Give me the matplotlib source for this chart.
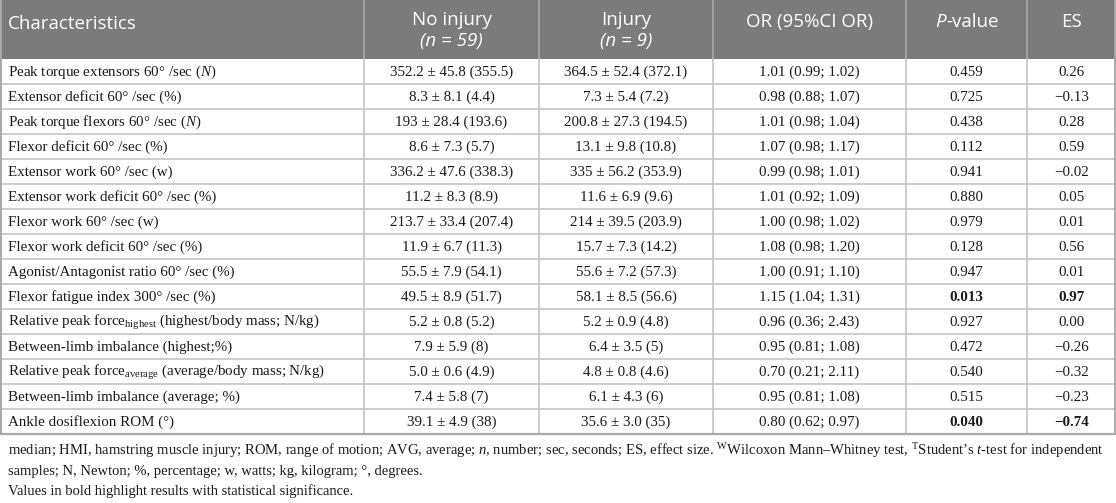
#!/usr/bin/env python3

import matplotlib
matplotlib.use('Agg')
from matplotlib import pyplot as plt
from matplotlib.patches import Rectangle

plt.rcParams['mathtext.fontset'] = 'custom'
plt.rcParams['mathtext.rm'] = 'Liberation Serif'
plt.rcParams['mathtext.it'] = 'Liberation Serif:italic'
plt.rcParams['mathtext.bf'] = 'Liberation Serif:bold'

headers = ['Characteristics', 'No injury', 'Injury', 'OR (95%CI OR)', 'P-value', 'ES']
group_sizes = ['(n = 59)', '(n = 9)']

characteristics = [
    r'Peak torque extensors 60° /sec ($N$)',
    'Extensor deficit 60° /sec (%)',
    r'Peak torque flexors 60° /sec ($N$)',
    'Flexor deficit 60° /sec (%)',
    'Extensor work 60° /sec (w)',
    'Extensor work deficit 60° /sec (%)',
    'Flexor work 60° /sec (w)',
    'Flexor work deficit 60° /sec (%)',
    'Agonist/Antagonist ratio 60° /sec (%)',
    'Flexor fatigue index 300° /sec (%)',
    r'Relative peak force$_{\mathrm{highest}}$ (highest/body mass; N/kg)',
    'Between-limb imbalance (highest;%)',
    r'Relative peak force$_{\mathrm{average}}$ (average/body mass; N/kg)',
    'Between-limb imbalance (average; %)',
    'Ankle dosiflexion ROM (°)',
]
no_injury = [
    '352.2 ± 45.8 (355.5)', '8.3 ± 8.1 (4.4)', '193 ± 28.4 (193.6)', '8.6 ± 7.3 (5.7)',
    '336.2 ± 47.6 (338.3)', '11.2 ± 8.3 (8.9)', '213.7 ± 33.4 (207.4)', '11.9 ± 6.7 (11.3)',
    '55.5 ± 7.9 (54.1)', '49.5 ± 8.9 (51.7)', '5.2 ± 0.8 (5.2)', '7.9 ± 5.9 (8)',
    '5.0 ± 0.6 (4.9)', '7.4 ± 5.8 (7)', '39.1 ± 4.9 (38)',
]
injury = [
    '364.5 ± 52.4 (372.1)', '7.3 ± 5.4 (7.2)', '200.8 ± 27.3 (194.5)', '13.1 ± 9.8 (10.8)',
    '335 ± 56.2 (353.9)', '11.6 ± 6.9 (9.6)', '214 ± 39.5 (203.9)', '15.7 ± 7.3 (14.2)',
    '55.6 ± 7.2 (57.3)', '58.1 ± 8.5 (56.6)', '5.2 ± 0.9 (4.8)', '6.4 ± 3.5 (5)',
    '4.8 ± 0.8 (4.6)', '6.1 ± 4.3 (6)', '35.6 ± 3.0 (35)',
]
odds_ratio = [
    '1.01 (0.99; 1.02)', '0.98 (0.88; 1.07)', '1.01 (0.98; 1.04)', '1.07 (0.98; 1.17)',
    '0.99 (0.98; 1.01)', '1.01 (0.92; 1.09)', '1.00 (0.98; 1.02)', '1.08 (0.98; 1.20)',
    '1.00 (0.91; 1.10)', '1.15 (1.04; 1.31)', '0.96 (0.36; 2.43)', '0.95 (0.81; 1.08)',
    '0.70 (0.21; 2.11)', '0.95 (0.81; 1.08)', '0.80 (0.62; 0.97)',
]
p_values = [
    '0.459', '0.725', '0.438', '0.112', '0.941', '0.880', '0.979', '0.128',
    '0.947', '0.013', '0.927', '0.472', '0.540', '0.515', '0.040',
]
effect_sizes = [
    '0.26', '−0.13', '0.28', '0.59', '−0.02', '0.05', '0.01', '0.56',
    '0.01', '0.97', '0.00', '−0.26', '−0.32', '−0.23', '−0.74',
]
significant = [p in ('0.013', '0.040') for p in p_values]

footnotes = [
    r'median; HMI, hamstring muscle injury; ROM, range of motion; AVG, average; $n$, number; sec, seconds; ES, effect size. '
    r'$^{\mathrm{W}}$Wilcoxon Mann–Whitney test, $^{\mathrm{T}}$Student’s $t$-test for independent',
    'samples; N, Newton; %, percentage; w, watts; kg, kilogram; °, degrees.',
    'Values in bold highlight results with statistical significance.',
]

# layout in pixels
W, H = 1116, 503
col_edges = [0, 364, 539, 713, 906, 1027, 1116]
header_h = 59
row_h = 25
head_bg = '#7b7b7b'
grid_c = '#c4c4c4'
txt_c = '#1a1a1a'
SANS = 'Open Sans'
SERIF = 'Liberation Serif'
HFS = 13.5   # header font size
BFS = 10.8   # body font size

fig = plt.figure(figsize=(W / 100, H / 100), dpi=100)
ax = fig.add_axes([0, 0, 1, 1])
ax.set_xlim(0, W)
ax.set_ylim(H, 0)
ax.axis('off')

# header
ax.add_patch(Rectangle((0, 0), W, header_h, facecolor=head_bg, edgecolor='none'))
for x in col_edges[1:-1]:
    ax.plot([x, x], [0, header_h], color='#a9a9a9', lw=1.2)

centers = [(a + b) / 2 for a, b in zip(col_edges[:-1], col_edges[1:])]
hkw = dict(color='white', fontsize=HFS, family=SANS, va='center')
ax.text(8, 24, headers[0], ha='left', **hkw)
for i in (1, 2):
    ax.text(centers[i], 20, headers[i], ha='center', **hkw)
    ax.text(centers[i], 41, group_sizes[i - 1], ha='center', style='italic', **hkw)
ax.text(centers[3], 22, headers[3], ha='center', **hkw)
ax.text(centers[5], 22, headers[5], ha='center', **hkw)

# "P-value" with italic P
renderer = fig.canvas.get_renderer()
p_txt = ax.text(0, 22, 'P', ha='left', style='italic', **hkw)
v_txt = ax.text(0, 22, '-value', ha='left', **hkw)
pw = p_txt.get_window_extent(renderer).width
vw = v_txt.get_window_extent(renderer).width
x0 = centers[4] - (pw + vw) / 2
p_txt.set_x(x0)
v_txt.set_x(x0 + pw + 1)

# body rows, all aligned on a common baseline
n_rows = len(characteristics)
columns = [no_injury, injury, odds_ratio, p_values, effect_sizes]
for r in range(n_rows):
    yb = header_h + (r + 0.5) * row_h + 4.5
    ax.text(8, yb, characteristics[r], color=txt_c, fontsize=BFS,
            family=SERIF, va='baseline', ha='left')
    for c, vals in enumerate(columns, start=1):
        bold = significant[r] and c >= 4
        ax.text(centers[c], yb, vals[r], color=txt_c, fontsize=BFS, family=SERIF,
                weight='bold' if bold else 'normal', va='baseline', ha='center')

# grid
table_bottom = header_h + n_rows * row_h
for r in range(1, n_rows):
    y = header_h + r * row_h
    ax.plot([0, W], [y, y], color=grid_c, lw=1.2)
for x in col_edges[1:-1]:
    ax.plot([x, x], [header_h, table_bottom], color=grid_c, lw=1.2)
ax.plot([0.7, 0.7], [0, table_bottom], color='#a9a9a9', lw=1.4)
ax.plot([W - 0.7, W - 0.7], [0, table_bottom], color='#a9a9a9', lw=1.4)
ax.plot([0, W], [table_bottom, table_bottom], color='#a9a9a9', lw=1.6)

# footnotes
for i, note in enumerate(footnotes):
    ax.text(8, table_bottom + 21.5 + i * 19.5, note, color=txt_c, fontsize=10.5, family=SERIF,
            va='baseline', ha='left')

fig.savefig('out.png', dpi=100)
